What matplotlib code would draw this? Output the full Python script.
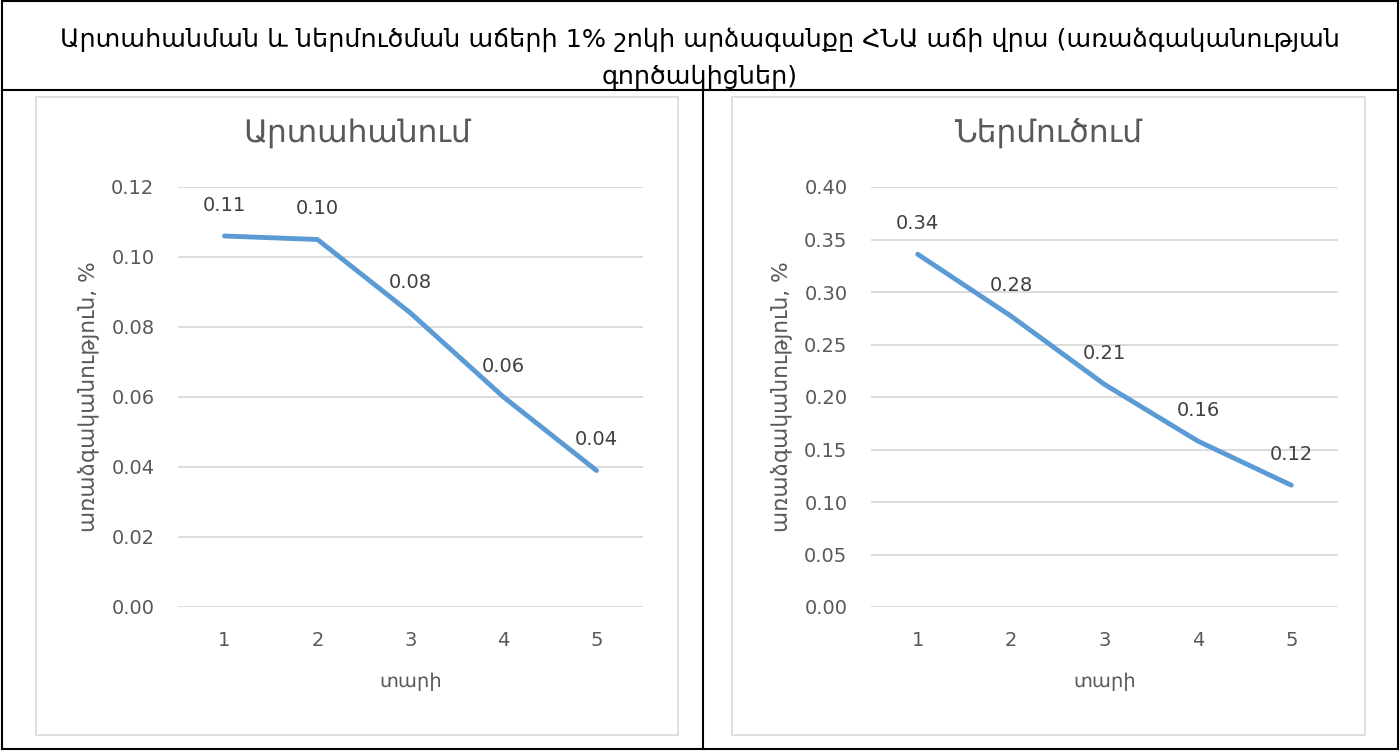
import matplotlib
matplotlib.use("Agg")
import matplotlib.pyplot as plt
from matplotlib.patches import Rectangle
from matplotlib.lines import Line2D

plt.rcParams['font.family'] = ['DejaVu Sans']

# data
years = [1, 2, 3, 4, 5]
export_vals = [0.106, 0.105, 0.084, 0.060, 0.039]
import_vals = [0.336, 0.277, 0.212, 0.158, 0.116]
export_ticks = [0.00, 0.02, 0.04, 0.06, 0.08, 0.10, 0.12]
import_ticks = [0.00, 0.05, 0.10, 0.15, 0.20, 0.25, 0.30, 0.35, 0.40]

main_title = "Արտահանման և ներմուծման աճերի 1% շոկի արձագանքը ՀՆԱ աճի վրա (առաձգականության\nգործակիցներ)"
titles = ["Արտահանում", "Ներմուծում"]
xlab = "տարի"
ylab = "առաձգականություն, %"

W, H = 1400, 751
fig = plt.figure(figsize=(14, 7.51), dpi=100)

def fx(px):
    return px / W

def fy(py):
    return 1 - py / H

# table borders
black = dict(color='black', lw=1.5, transform=fig.transFigure)
fig.add_artist(Line2D([fx(2), fx(1398)], [fy(1), fy(1)], **black))
fig.add_artist(Line2D([fx(2), fx(1398)], [fy(749), fy(749)], **black))
fig.add_artist(Line2D([fx(2), fx(2)], [fy(1), fy(749)], **black))
fig.add_artist(Line2D([fx(1398), fx(1398)], [fy(1), fy(749)], **black))
fig.add_artist(Line2D([fx(2), fx(1398)], [fy(90), fy(90)], **black))
fig.add_artist(Line2D([fx(703), fx(703)], [fy(90), fy(749)], **black))

fig.text(0.5, fy(58), main_title, ha='center', va='center', fontsize=18.3,
         linespacing=1.65)

panels = [
    dict(box=(36, 97, 678, 735), ax=(178, 187, 643, 607), vals=export_vals,
         ticks=export_ticks, title=titles[0]),
    dict(box=(732, 97, 1365, 735), ax=(871, 187, 1338, 607), vals=import_vals,
         ticks=import_ticks, title=titles[1]),
]

for p in panels:
    x0, y0, x1, y1 = p['box']
    fig.add_artist(Rectangle((fx(x0), fy(y1)), fx(x1 - x0), (y1 - y0) / H,
                             transform=fig.transFigure, fill=False,
                             edgecolor='#D9D9D9', lw=1.2))
    fig.text(fx((x0 + x1) / 2), fy(133), p['title'], ha='center', va='center',
             fontsize=22.5, color='#595959')
    a0, b0, a1, b1 = p['ax']
    ax = fig.add_axes([fx(a0), fy(b1), fx(a1 - a0), (b1 - b0) / H])
    ax.plot(years, p['vals'], color='#5B9BD5', lw=3.5, solid_capstyle='round',
            zorder=3)
    for x, v in zip(years, p['vals']):
        ax.annotate(f"{v:.2f}", (x, v), xytext=(0, 22), textcoords='offset points',
                    ha='center', va='center', fontsize=14, color='#404040')
    ax.set_xlim(0.5, 5.5)
    ax.set_ylim(p['ticks'][0], p['ticks'][-1])
    ax.set_yticks(p['ticks'])
    ax.set_yticklabels([f"{t:.2f}" for t in p['ticks']])
    ax.set_xticks(years)
    ax.grid(axis='y', color='#D9D9D9', lw=1.3)
    ax.set_axisbelow(True)
    for s in ax.spines.values():
        s.set_visible(False)
    ax.tick_params(length=0, labelsize=14, labelcolor='#595959')
    ax.tick_params(axis='x', pad=17)
    ax.tick_params(axis='y', pad=17)
    ax.set_xlabel(xlab, fontsize=14, color='#595959', labelpad=16)
    ax.set_ylabel(ylab, fontsize=15.7, color='#595959', labelpad=8)

fig.savefig("out.png", dpi=100)
